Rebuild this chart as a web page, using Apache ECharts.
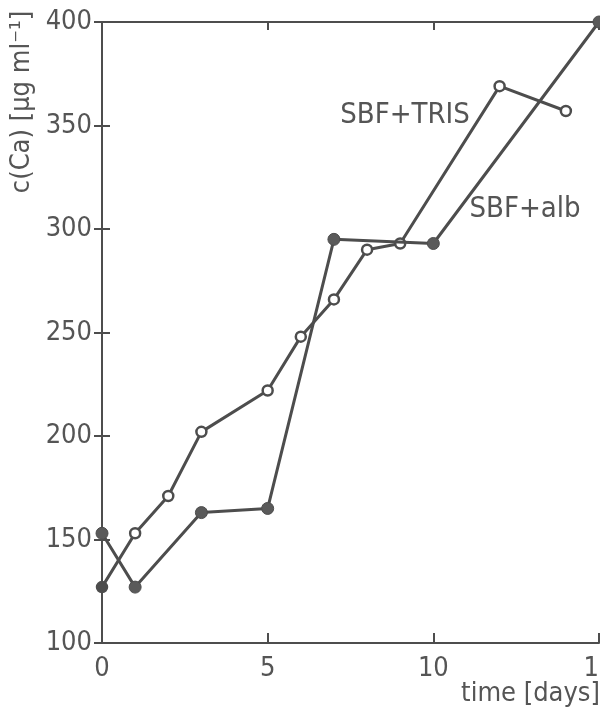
<!DOCTYPE html>
<html><head><meta charset="utf-8">
<script src="https://cdn.jsdelivr.net/npm/echarts@6/dist/echarts.min.js"></script>
<style>html,body{margin:0;padding:0;background:#fff}#c{width:600px;height:715px}</style>
</head><body><div id="c"></div>
<script>
var trisDays = [0, 1, 2, 3, 5, 6, 7, 8, 9, 12, 14];
var trisCa   = [127, 153, 171, 202, 222, 248, 266, 290, 293, 369, 357];
var albDays  = [0, 1, 3, 5, 7, 10, 15];
var albCa    = [153, 127, 163, 165, 295, 293, 400];
var xTicks = [0, 5, 10, 15];
var yTicks = [100, 150, 200, 250, 300, 350, 400];
var seriesNames = ['SBF+TRIS', 'SBF+alb'];
var xTitle = 'time [days]';
var yTitle = 'c(Ca) [\u00b5g ml\u207b\u00b9]';

var FONT = '"DejaVu Sans Condensed", "Liberation Sans Narrow", "Liberation Sans", sans-serif';
var INK = '#4d4d4d';
var TXT = '#555';

function pairs(xs, ys){ return xs.map(function(x,i){ return [x, ys[i]]; }); }

var trisData = pairs(trisDays, trisCa).map(function(p,i){
  return i === 0 ? {value:p, itemStyle:{color:INK}} : p;
});

var chart = echarts.init(document.getElementById('c'), null, {renderer:'canvas'});
var axisLine = {show:true, lineStyle:{color:INK, width:2}};
chart.setOption({
  animation:false,
  backgroundColor:'#fff',
  grid:{left:102, right:1, top:22, bottom:72, containLabel:false, outerBoundsMode:'none'},
  xAxis:[{
    type:'value', min:0, max:15, interval:5, position:'bottom',
    axisLine:axisLine, axisTick:{show:true, inside:true, length:10, lineStyle:{color:INK, width:2}},
    splitLine:{show:false},
    axisLabel:{fontFamily:FONT, fontSize:27, color:TXT, margin:12, showMaxLabel:true,
      formatter:function(v){ return xTicks.indexOf(v) >= 0 ? String(v) : ''; }}
  },{
    type:'value', min:0, max:15, interval:5, position:'top',
    axisLine:axisLine, axisTick:{show:true, inside:true, length:8, lineStyle:{color:INK, width:2}},
    splitLine:{show:false}, axisLabel:{show:false}
  }],
  yAxis:[{
    type:'value', min:100, max:400, interval:50, position:'left',
    axisLine:axisLine, axisTick:{show:true, inside:true, length:8, lineStyle:{color:INK, width:2}},
    splitLine:{show:false},
    axisLabel:{fontFamily:FONT, fontSize:27, color:TXT, margin:10,
      formatter:function(v){ return yTicks.indexOf(v) >= 0 ? String(v) : ''; }}
  },{
    type:'value', min:100, max:400, interval:50, position:'right',
    axisLine:axisLine, axisTick:{show:true, inside:true, length:8, lineStyle:{color:INK, width:2}},
    splitLine:{show:false}, axisLabel:{show:false}
  }],
  series:[{
    name:seriesNames[0], type:'line', data:trisData, clip:false,
    symbol:'circle', symbolSize:10, showAllSymbol:true,
    lineStyle:{color:INK, width:3},
    itemStyle:{color:'#fff', borderColor:INK, borderWidth:2.5}, z:3
  },{
    name:seriesNames[1], type:'line', data:pairs(albDays, albCa), clip:false,
    symbol:'circle', symbolSize:12, showAllSymbol:true,
    lineStyle:{color:INK, width:3},
    itemStyle:{color:'#5a5a5a', borderColor:INK, borderWidth:1}, z:4
  }],
  graphic:[
    {type:'text', x:405, y:115, style:{text:seriesNames[0], font:'29px '+FONT, fill:TXT, align:'center', verticalAlign:'middle'}},
    {type:'text', x:525, y:209, style:{text:seriesNames[1], font:'29px '+FONT, fill:TXT, align:'center', verticalAlign:'middle'}},
    {type:'text', x:600, y:694, style:{text:xTitle, font:'27px '+FONT, fill:TXT, align:'right', verticalAlign:'middle'}},
    {type:'text', x:22, y:102, rotation:Math.PI/2, style:{text:yTitle, font:'27px '+FONT, fill:TXT, align:'center', verticalAlign:'middle'}}
  ]
});
</script></body></html>
